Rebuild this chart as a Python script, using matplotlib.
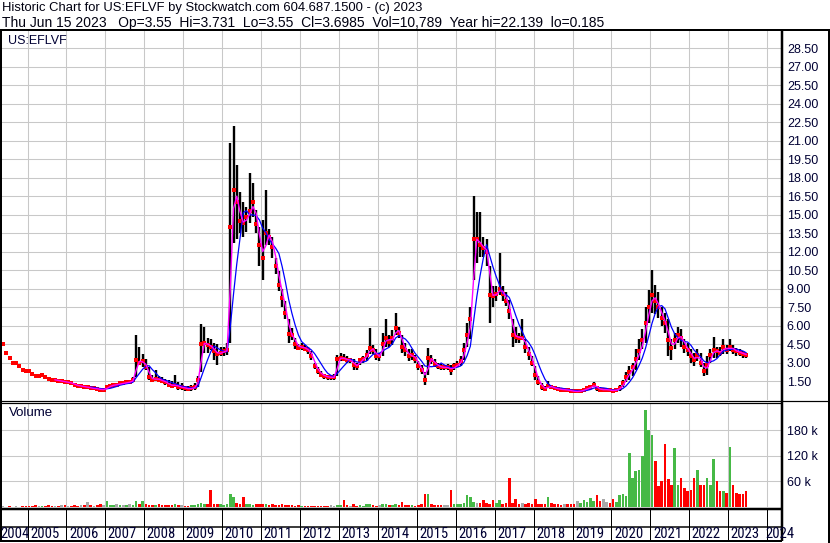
import numpy as np
import pandas as pd
import matplotlib
matplotlib.use('Agg')
import matplotlib.pyplot as plt
from matplotlib.lines import Line2D
from matplotlib import font_manager

# monthly bars, May 2004 .. Jun 2023
months = pd.date_range('2004-05-01', '2023-06-01', freq='MS')

close = [
    4.5, 3.8, 3.4, 3.0, 3.0, 2.7, 2.4, 2.35,                     # 2004
    2.3, 2.1, 1.9, 1.9, 2.0, 1.8, 1.7, 1.6, 1.6, 1.5, 1.5, 1.4,  # 2005
    1.4, 1.3, 1.2, 1.1, 1.1, 1.0, 1.0, 0.9, 0.9, 0.85, 0.8, 0.8,  # 2006
    1.0, 1.1, 1.2, 1.2, 1.3, 1.3, 1.4, 1.4, 1.6, 3.2, 3.0, 3.1,  # 2007
    2.6, 1.8, 1.6, 1.7, 1.6, 1.5, 1.4, 1.2, 1.1, 1.2, 1.0, 1.0,  # 2008
    0.9, 0.85, 0.9, 1.0, 1.6, 4.5, 4.6, 4.4, 4.3, 3.9, 3.7, 3.8,  # 2009
    3.9, 4.0, 14.0, 17.0, 16.0, 14.5, 14.3, 14.8, 15.3, 16.0, 14.2, 12.5,  # 2010
    11.5, 13.5, 13.2, 12.4, 10.8, 9.3, 8.2, 7.0, 5.3, 5.2, 4.5, 4.2,  # 2011
    4.3, 4.1, 4.0, 3.5, 2.7, 2.3, 2.0, 1.9, 1.8, 1.8, 1.8, 3.3,  # 2012
    3.4, 3.3, 3.2, 3.2, 2.8, 2.7, 3.2, 3.3, 3.6, 4.2, 4.0, 3.5,  # 2013
    3.5, 4.5, 5.0, 4.7, 5.0, 5.8, 5.4, 4.3, 4.0, 3.5, 3.6, 3.3,  # 2014
    2.7, 2.4, 1.6, 3.4, 3.2, 2.9, 2.7, 2.6, 2.6, 2.6, 2.4, 2.7,  # 2015
    2.8, 3.1, 4.0, 5.2, 6.5, 13.0, 13.0, 12.5, 12.3, 12.0, 8.5, 8.4,  # 2016
    8.6, 9.0, 8.6, 8.0, 7.2, 5.2, 5.1, 5.0, 5.0, 4.3, 3.7, 3.0,  # 2017
    2.0, 1.4, 1.0, 0.85, 1.1, 1.0, 0.9, 0.85, 0.8, 0.8, 0.75, 0.7,  # 2018
    0.65, 0.65, 0.7, 0.8, 0.9, 1.0, 1.2, 0.9, 0.8, 0.8, 0.8, 0.75,  # 2019
    0.7, 0.8, 0.9, 1.3, 1.8, 2.2, 2.6, 3.3, 3.9, 4.8, 6.2, 7.5,  # 2020
    8.5, 8.0, 7.5, 6.6, 6.2, 4.8, 4.2, 4.8, 5.2, 5.0, 4.3, 4.0,  # 2021
    3.5, 3.2, 3.6, 3.0, 2.3, 2.8, 3.6, 4.0, 3.9, 3.8, 4.3, 4.0,  # 2022
    4.3, 4.0, 3.9, 3.8, 3.7, 3.6,                                # 2023
]

high = [
    4.5, 3.8, 3.4, 3.0, 3.0, 2.7, 2.4, 2.35,
    2.3, 2.1, 1.9, 1.9, 2.0, 1.8, 1.7, 1.6, 1.6, 1.5, 1.5, 1.4,
    1.4, 1.3, 1.2, 1.1, 1.1, 1.0, 1.0, 0.9, 0.9, 0.85, 0.8, 0.8,
    1.0, 1.1, 1.3, 1.3, 1.4, 1.4, 1.5, 1.5, 1.8, 5.2, 4.3, 3.7,
    3.3, 2.6, 2.0, 2.4, 1.9, 1.8, 1.7, 1.6, 1.5, 2.0, 1.4, 1.3,
    1.1, 1.1, 1.2, 1.3, 1.9, 6.1, 5.9, 5.0, 4.9, 4.6, 4.5, 4.3,
    4.3, 4.6, 20.8, 22.2, 19.0, 16.8, 16.0, 15.6, 18.4, 17.6, 15.4, 14.0,
    14.6, 17.0, 13.8, 13.2, 11.5, 10.4, 9.0, 8.0, 6.5, 5.8, 5.0, 4.5,
    4.6, 4.4, 4.3, 3.9, 3.0, 2.6, 2.3, 2.1, 2.0, 2.0, 2.1, 3.6,
    3.8, 3.7, 3.5, 3.4, 3.3, 3.0, 3.4, 3.5, 4.0, 5.8, 4.4, 4.1,
    3.8, 5.4, 6.5, 5.2, 5.6, 7.0, 5.9, 5.2, 4.6, 4.1, 4.1, 3.6,
    3.1, 2.8, 2.2, 4.2, 3.6, 3.3, 3.0, 2.9, 2.8, 2.9, 2.8, 3.0,
    3.1, 3.5, 4.6, 6.2, 7.5, 16.5, 15.2, 15.2, 13.2, 13.0, 10.8, 9.2,
    9.2, 11.9, 9.2, 8.7, 8.1, 6.5, 5.9, 5.4, 6.5, 4.9, 4.3, 3.5,
    2.7, 1.9, 1.3, 1.1, 1.5, 1.2, 1.05, 1.0, 0.97, 0.95, 0.9, 0.8,
    0.8, 0.8, 0.85, 0.97, 1.1, 1.2, 1.4, 1.1, 1.0, 0.97, 0.95, 0.9,
    0.8, 0.97, 1.2, 1.6, 2.2, 2.7, 3.0, 4.1, 4.9, 5.7, 7.5, 8.9,
    10.5, 9.3, 8.7, 7.5, 7.0, 6.5, 4.9, 5.4, 5.9, 5.7, 4.9, 4.6,
    4.1, 3.8, 4.1, 3.8, 3.0, 3.5, 4.1, 5.1, 4.3, 4.3, 4.9, 4.4,
    4.9, 4.4, 4.2, 4.1, 3.9, 3.8,
]

low = [
    4.5, 3.8, 3.4, 3.0, 3.0, 2.7, 2.4, 2.35,
    2.3, 2.1, 1.9, 1.9, 2.0, 1.8, 1.7, 1.6, 1.6, 1.5, 1.5, 1.4,
    1.4, 1.3, 1.2, 1.1, 1.1, 1.0, 1.0, 0.9, 0.9, 0.85, 0.8, 0.8,
    0.9, 1.0, 1.1, 1.1, 1.2, 1.2, 1.3, 1.3, 1.4, 1.8, 2.8, 2.6,
    2.4, 1.6, 1.4, 1.5, 1.4, 1.3, 1.2, 1.1, 1.0, 1.0, 0.8, 0.8,
    0.7, 0.7, 0.7, 0.8, 1.0, 2.2, 3.8, 3.8, 4.0, 3.2, 2.8, 3.5,
    3.5, 3.6, 4.6, 12.7, 13.0, 13.5, 13.2, 13.6, 14.3, 14.8, 13.5, 10.8,
    9.7, 12.5, 12.5, 11.5, 10.2, 8.8, 7.5, 6.5, 4.6, 4.8, 4.1, 4.0,
    4.0, 3.9, 3.7, 3.2, 2.5, 2.1, 1.8, 1.7, 1.6, 1.6, 1.6, 1.9,
    3.1, 3.1, 3.0, 3.0, 2.4, 2.4, 2.8, 3.0, 3.1, 3.7, 3.7, 3.2,
    3.1, 3.5, 4.3, 4.3, 4.4, 5.2, 5.0, 3.8, 3.5, 3.1, 3.2, 3.0,
    2.4, 2.1, 1.2, 2.0, 2.9, 2.6, 2.5, 2.4, 2.4, 2.4, 2.0, 2.4,
    2.6, 2.7, 3.2, 4.3, 4.9, 9.7, 11.1, 11.6, 11.6, 10.8, 6.2, 7.5,
    8.0, 8.5, 8.0, 7.6, 6.5, 4.3, 4.6, 4.6, 4.8, 3.8, 3.2, 2.7,
    1.6, 1.2, 0.8, 0.65, 0.9, 0.85, 0.8, 0.7, 0.65, 0.65, 0.6, 0.55,
    0.55, 0.55, 0.6, 0.65, 0.75, 0.8, 1.0, 0.7, 0.65, 0.65, 0.65, 0.6,
    0.55, 0.65, 0.7, 1.0, 1.4, 1.6, 1.9, 2.4, 3.2, 4.1, 4.6, 6.2,
    7.0, 6.9, 6.6, 6.0, 5.4, 3.5, 3.2, 4.1, 4.6, 4.3, 3.8, 3.5,
    3.0, 2.7, 3.1, 2.6, 1.9, 2.0, 3.0, 3.4, 3.4, 3.5, 3.7, 3.7,
    3.9, 3.7, 3.5, 3.5, 3.4, 3.4,
]

# volume in thousands of shares
volume_k = [
    2, 1, 2, 1, 2, 1, 3, 2,
    2, 3, 4, 2, 3, 2, 4, 3, 2, 3, 5, 4,
    3, 3, 4, 3, 5, 4, 12, 4, 3, 5, 7, 4,
    14, 5, 4, 6, 5, 5, 4, 6, 5, 14, 8, 14,
    6, 5, 4, 5, 6, 4, 5, 4, 5, 7, 4, 5,
    3, 3, 4, 5, 6, 9, 7, 6, 39, 8, 6, 7,
    5, 6, 30, 23, 10, 8, 23, 7, 6, 5, 8, 7,
    6, 8, 5, 6, 4, 5, 6, 4, 5, 4, 3, 4,
    3, 3, 2, 3, 2, 3, 2, 3, 3, 4, 3, 4,
    5, 16, 4, 3, 7, 3, 4, 3, 8, 6, 4, 3,
    4, 8, 6, 5, 4, 8, 5, 12, 4, 5, 4, 3,
    5, 6, 30, 30, 7, 5, 4, 5, 4, 5, 41, 6,
    6, 7, 10, 28, 23, 12, 10, 9, 16, 10, 8, 17,
    10, 16, 8, 9, 68, 9, 18, 8, 10, 7, 9, 8,
    18, 8, 6, 7, 23, 9, 6, 7, 5, 6, 7, 6,
    8, 13, 10, 16, 12, 21, 15, 28, 14, 18, 12, 10,
    18, 12, 28, 30, 25, 128, 67, 85, 87, 120, 228, 182,
    170, 108, 50, 61, 148, 66, 52, 139, 52, 68, 45, 37,
    40, 68, 87, 52, 52, 68, 52, 113, 62, 37, 37, 33,
    141, 51, 33, 30, 30, 37,
]

years = list(range(2004, 2025))
price_ticks = [1.5 * i for i in range(1, 20)]
vol_ticks = [60000, 120000, 180000]
vol_labels = ['60 k', '120 k', '180 k']

title1 = 'Historic Chart for US:EFLVF by Stockwatch.com 604.687.1500 - (c) 2023'
title2 = ('Thu Jun 15 2023   Op=3.55  Hi=3.731  Lo=3.55  Cl=3.6985  '
          'Vol=10,789  Year hi=22.139  lo=0.185')

W, H = 830, 543
plt.rcParams['font.family'] = ['Liberation Sans', 'DejaVu Sans']
fig = plt.figure(figsize=(W / 100, H / 100), dpi=100)

# narrow face for the year strip if one is around
installed = {f.name for f in font_manager.fontManager.ttflist}
if 'Liberation Sans Narrow' in installed:
    year_font, year_size = 'Liberation Sans Narrow', 11
elif 'Roboto Condensed' in installed:
    year_font, year_size = 'Roboto Condensed', 10.5
elif 'DejaVu Sans Condensed' in installed:
    year_font, year_size = 'DejaVu Sans Condensed', 9.5
else:
    year_font, year_size = 'Liberation Sans', 9.5


def fx(px):
    return px / W


def fy(py):
    return 1 - py / H


def hline(y, xa, xb, w):
    fig.add_artist(Line2D([fx(xa), fx(xb)], [fy(y), fy(y)], transform=fig.transFigure,
                          color='black', lw=w * 0.72, solid_capstyle='butt'))


def vline(x, ya, yb, w):
    fig.add_artist(Line2D([fx(x), fx(x)], [fy(ya), fy(yb)], transform=fig.transFigure,
                          color='black', lw=w * 0.72, solid_capstyle='butt'))


xs = months.year + (months.month - 0.5) / 12
s_close = pd.Series(close, index=months)
ma_short = s_close.rolling(2).mean()
ma_long = s_close.rolling(5).mean()
ma_short[months < '2005-09-01'] = np.nan
ma_long[months < '2006-08-01'] = np.nan

chg = np.sign(np.diff(np.r_[close[0], close]))
vcolors = ['#46b946' if c > 0 else ('#ff0000' if c < 0 else '#a8a8a8') for c in chg]

xlo = 2005 + (2 - 27.5) / 38.93
xhi = 2005 + (782 - 27.5) / 38.93
grid_c = '#c8c8c8'
tick_c = '#000033'

ax = fig.add_axes([fx(2), fy(399.5), fx(782) - fx(2), fy(31) - fy(399.5)])
axv = fig.add_axes([fx(2), fy(507), fx(782) - fx(2), fy(404) - fy(507)])

for a in (ax, axv):
    a.set_xticks(years)
    a.set_xlim(xlo, xhi)
    a.tick_params(axis='x', length=0, labelbottom=False)
    a.yaxis.tick_right()
    a.tick_params(axis='y', length=0, pad=3.5, labelsize=9, labelcolor=tick_c)
    a.grid(True, color=grid_c, lw=0.75)
    a.set_axisbelow(True)
    for sp in a.spines.values():
        sp.set_visible(False)

ax.set_yticks(price_ticks)
ax.set_yticklabels([f'{v:.2f}' for v in price_ticks])
ax.set_ylim(0, 29.9)

ax.vlines(xs, low, high, color='black', lw=1.7, capstyle='butt')
ax.plot(xs, close, 's', color='red', ms=2.6, mew=0)
ax.plot(xs, ma_long, color='#0000ff', lw=0.9)
ax.plot(xs, ma_short, color='#ff00ff', lw=1.0)

axv.bar(xs, np.array(volume_k) * 1000, width=0.8 / 12, color=vcolors, linewidth=0)
axv.set_yticks(vol_ticks)
axv.set_yticklabels(vol_labels)
axv.set_ylim(0, 242000)

# header and panel captions
fig.text(fx(2), fy(8), title1, fontsize=9.4, va='center', ha='left', color='#000010')
fig.text(fx(2), fy(22.5), title2, fontsize=10, va='center', ha='left', color='#000010')
fig.text(fx(8), fy(41), 'US:EFLVF', fontsize=9, va='center', ha='left', color=tick_c)
fig.text(fx(9), fy(413), 'Volume', fontsize=9.5, va='center', ha='left', color=tick_c)

# frame
hline(30, 0, 830, 2)
vline(1, 30, 541, 2)
vline(782, 30, 541, 2.5)
vline(828.5, 30, 543, 3)
hline(400.5, 0, 828, 1.2)
hline(403, 0, 782, 1.2)
hline(508.5, 0, 782, 2.5)
hline(527, 0, 782, 1.5)
hline(541, 0, 782, 2)

# year strip
fig.canvas.draw()
for yr in years:
    px = ax.transData.transform((yr, 0))[0]
    if 0 < px < 782:
        vline(px, 509, 541, 1)
    lx = px + 2.5
    if yr == years[0]:
        lx = 0.5
    if yr == years[-1]:
        lx = px - 2
    fig.text(fx(lx), fy(534), str(yr), fontsize=year_size, va='center', ha='left',
             color=tick_c, family=[year_font, 'Liberation Sans'])

fig.savefig('out.png', dpi=100, facecolor='white')
